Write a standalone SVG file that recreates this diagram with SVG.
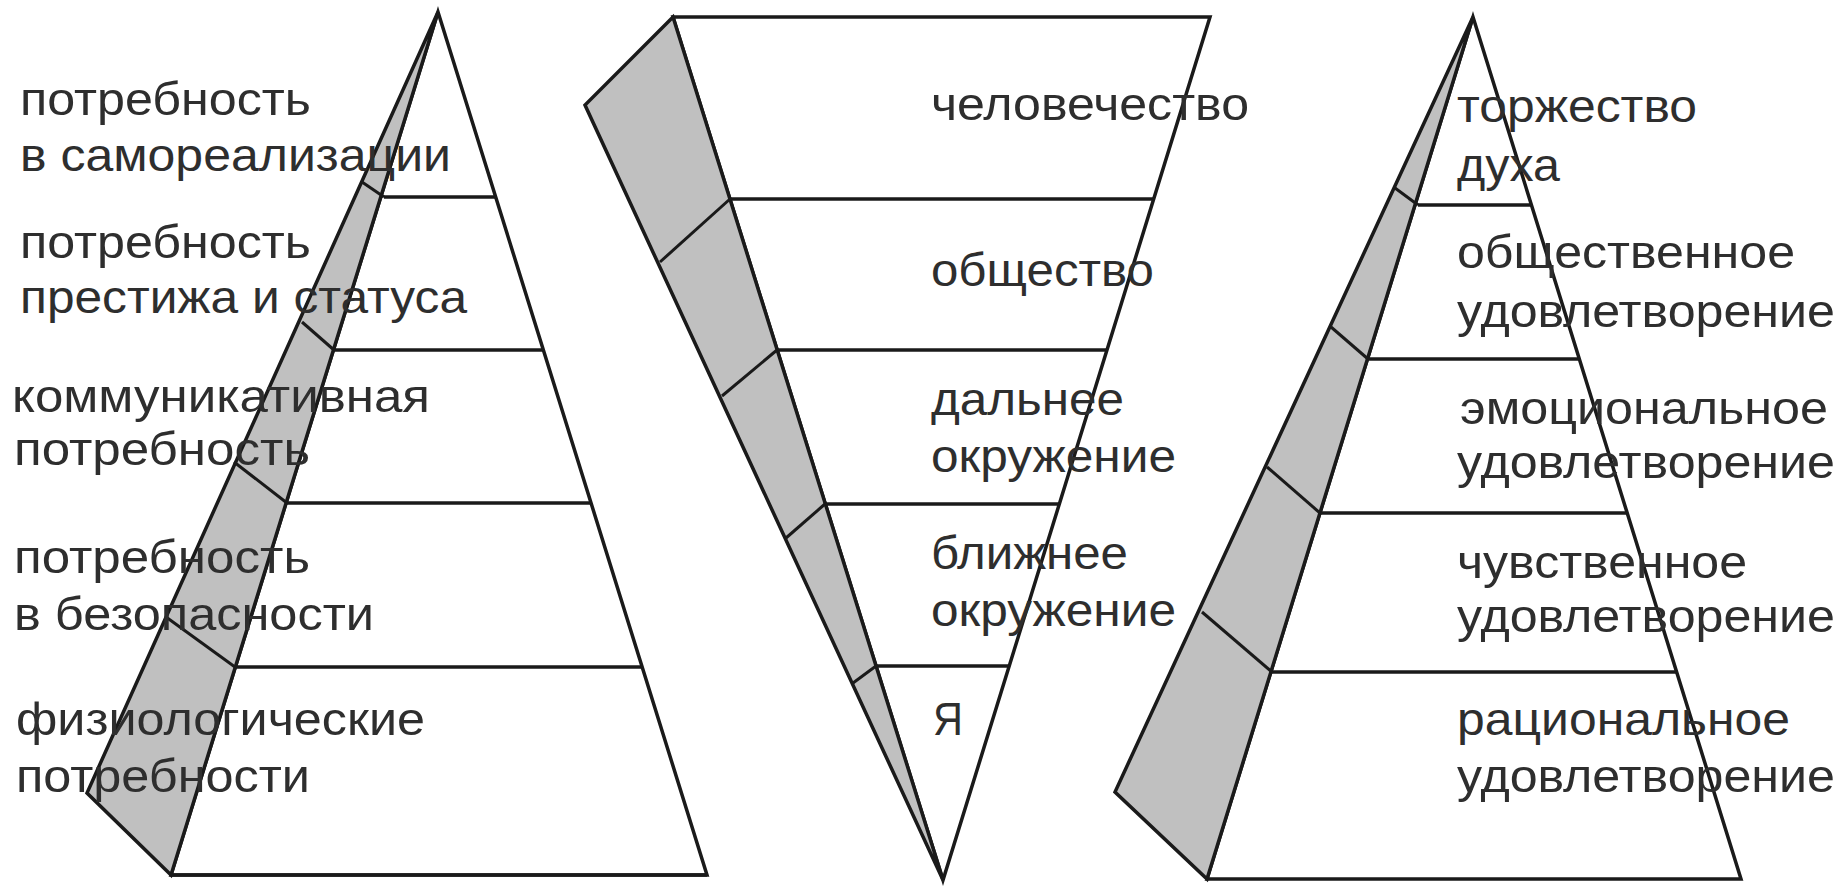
<svg xmlns="http://www.w3.org/2000/svg" width="1847" height="893" viewBox="0 0 1847 893">
<style>
.w{fill:#ffffff;stroke:#1a1a1a;stroke-width:3.5;stroke-linejoin:miter}
.g{fill:#c0c0c0;stroke:#1a1a1a;stroke-width:3.5;stroke-linejoin:miter}
.l{stroke:#1a1a1a;stroke-width:3.5;fill:none}
.d{stroke:#1a1a1a;stroke-width:3;fill:none}
text{font-family:"Liberation Sans",Arial,sans-serif;font-size:46px;fill:#2e2e2e}
</style>
<rect width="1847" height="893" fill="#ffffff"/>
<g id="left-pyramid">
<polygon class="w" points="438,12 707,875 171,875"/>
<polygon class="g" points="438,12 171,875 87,793"/>
<line class="l" x1="171" y1="875" x2="707" y2="875" stroke-width="5"/>
<line class="l" x1="384" y1="197" x2="495" y2="197"/>
<line class="l" x1="334" y1="350" x2="543" y2="350"/>
<line class="l" x1="287" y1="503" x2="591" y2="503"/>
<line class="l" x1="235" y1="667" x2="642" y2="667"/>
<line class="d" x1="362" y1="182" x2="384" y2="197"/>
<line class="d" x1="302" y1="322" x2="334" y2="350"/>
<line class="d" x1="234" y1="462" x2="287" y2="503"/>
<line class="d" x1="166" y1="617" x2="235" y2="667"/>
<text x="20" y="115" textLength="291" lengthAdjust="spacingAndGlyphs">потребность</text>
<text x="20" y="171" textLength="431" lengthAdjust="spacingAndGlyphs">в самореализации</text>
<text x="20" y="258" textLength="291" lengthAdjust="spacingAndGlyphs">потребность</text>
<text x="20" y="313" textLength="447" lengthAdjust="spacingAndGlyphs">престижа и статуса</text>
<text x="12" y="412" textLength="418" lengthAdjust="spacingAndGlyphs">коммуникативная</text>
<text x="14" y="465" textLength="296" lengthAdjust="spacingAndGlyphs">потребность</text>
<text x="14" y="573" textLength="296" lengthAdjust="spacingAndGlyphs">потребность</text>
<text x="14" y="630" textLength="360" lengthAdjust="spacingAndGlyphs">в безопасности</text>
<text x="16" y="735" textLength="409" lengthAdjust="spacingAndGlyphs">физиологические</text>
<text x="16" y="792" textLength="294" lengthAdjust="spacingAndGlyphs">потребности</text>
</g>
<g id="middle-pyramid">
<polygon class="w" points="673,17 1210,17 943,880"/>
<polygon class="g" points="673,17 943,880 585,105"/>
<line class="l" x1="730" y1="199" x2="1154" y2="199"/>
<line class="l" x1="777" y1="350" x2="1107" y2="350"/>
<line class="l" x1="825" y1="504" x2="1059" y2="504"/>
<line class="l" x1="876" y1="666" x2="1009" y2="666"/>
<line class="d" x1="660" y1="262" x2="730" y2="199"/>
<line class="d" x1="722" y1="396" x2="777" y2="350"/>
<line class="d" x1="786" y1="538" x2="825" y2="504"/>
<line class="d" x1="853" y1="683" x2="876" y2="666"/>
<text x="931" y="120" textLength="318" lengthAdjust="spacingAndGlyphs">человечество</text>
<text x="931" y="286" textLength="223" lengthAdjust="spacingAndGlyphs">общество</text>
<text x="931" y="415" textLength="193" lengthAdjust="spacingAndGlyphs">дальнее</text>
<text x="931" y="472" textLength="245" lengthAdjust="spacingAndGlyphs">окружение</text>
<text x="931" y="569" textLength="197" lengthAdjust="spacingAndGlyphs">ближнее</text>
<text x="931" y="626" textLength="245" lengthAdjust="spacingAndGlyphs">окружение</text>
<text x="933" y="735" textLength="30" lengthAdjust="spacingAndGlyphs">Я</text>
</g>
<g id="right-pyramid">
<polygon class="w" points="1473,17 1741,879 1207,879"/>
<polygon class="g" points="1473,17 1207,879 1115,792"/>
<line class="l" x1="1418" y1="205" x2="1532" y2="205"/>
<line class="l" x1="1368" y1="359" x2="1579" y2="359"/>
<line class="l" x1="1320" y1="513" x2="1627" y2="513"/>
<line class="l" x1="1272" y1="672" x2="1677" y2="672"/>
<line class="d" x1="1395" y1="188" x2="1418" y2="205"/>
<line class="d" x1="1331" y1="327" x2="1368" y2="359"/>
<line class="d" x1="1267" y1="467" x2="1320" y2="513"/>
<line class="d" x1="1202" y1="612" x2="1272" y2="672"/>
<text x="1457" y="122" textLength="240" lengthAdjust="spacingAndGlyphs">торжество</text>
<text x="1457" y="181" textLength="103" lengthAdjust="spacingAndGlyphs">духа</text>
<text x="1457" y="268" textLength="338" lengthAdjust="spacingAndGlyphs">общественное</text>
<text x="1457" y="327" textLength="378" lengthAdjust="spacingAndGlyphs">удовлетворение</text>
<text x="1460" y="424" textLength="368" lengthAdjust="spacingAndGlyphs">эмоциональное</text>
<text x="1457" y="478" textLength="378" lengthAdjust="spacingAndGlyphs">удовлетворение</text>
<text x="1457" y="578" textLength="290" lengthAdjust="spacingAndGlyphs">чувственное</text>
<text x="1457" y="632" textLength="378" lengthAdjust="spacingAndGlyphs">удовлетворение</text>
<text x="1457" y="735" textLength="333" lengthAdjust="spacingAndGlyphs">рациональное</text>
<text x="1457" y="792" textLength="378" lengthAdjust="spacingAndGlyphs">удовлетворение</text>
</g>
<g id="connectors"></g>
</svg>
